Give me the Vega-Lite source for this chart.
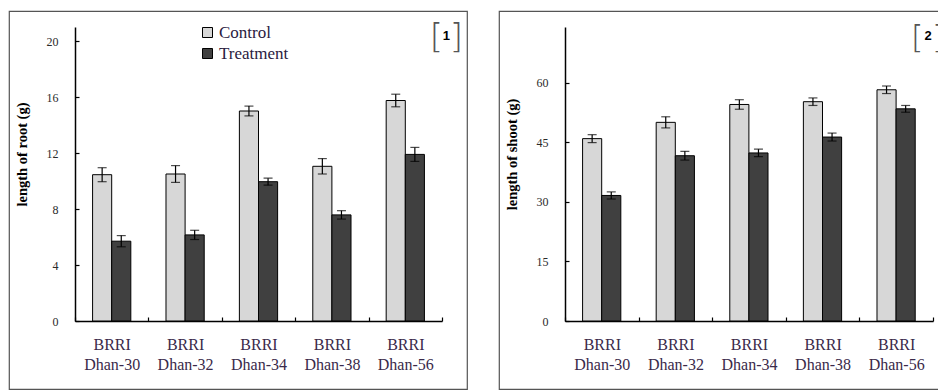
{
  "$schema": "https://vega.github.io/schema/vega-lite/v6.json",
  "background": "white",
  "padding": {"left": 8, "top": 10, "right": 0, "bottom": 0},
  "spacing": 30,
  "config": {
    "view": {"stroke": "#555555", "strokeWidth": 1.2},
    "font": "Liberation Serif",
    "axis": {
      "grid": false,
      "domainColor": "black",
      "domainWidth": 1.5,
      "tickColor": "black",
      "tickWidth": 1.2,
      "tickSize": -4,
      "labelFont": "Liberation Serif",
      "labelColor": "#2a2a2a",
      "titleFont": "Liberation Serif",
      "titleColor": "black"
    },
    "axisX": {
      "offset": -68,
      "tickBand": "extent",
      "labelAngle": 0,
      "labelFont": "Liberation Serif",
      "labelFontSize": 16,
      "labelLineHeight": 20,
      "labelPadding": 19,
      "labelBaseline": "top",
      "labelColor": "#3a2a4a",
      "title": null
    },
    "axisY": {
      "offset": -66,
      "labelFont": "Liberation Serif",
      "labelFontSize": 12,
      "labelPadding": 21,
      "titleFont": "Liberation Serif",
      "titleFontSize": 14.5,
      "titleFontWeight": "bold",
      "titlePadding": 17
    },
    "legend": {
      "orient": "none",
      "title": null,
      "padding": 0,
      "symbolType": "square",
      "symbolSize": 100,
      "symbolStrokeColor": "black",
      "symbolStrokeWidth": 1,
      "labelFont": "Liberation Serif",
      "labelFontSize": 17,
      "labelColor": "#2a2040",
      "labelOffset": 3,
      "rowPadding": 3
    }
  },
  "hconcat": [
    {
      "width": 458,
      "height": 378,
      "data": {
        "values": [
          {"cultivar": "BRRI Dhan-30", "group": "Control", "value": 10.45, "lo": 9.95, "hi": 10.95},
          {"cultivar": "BRRI Dhan-30", "group": "Treatment", "value": 5.7, "lo": 5.3, "hi": 6.1},
          {"cultivar": "BRRI Dhan-32", "group": "Control", "value": 10.5, "lo": 9.9, "hi": 11.1},
          {"cultivar": "BRRI Dhan-32", "group": "Treatment", "value": 6.15, "lo": 5.82, "hi": 6.48},
          {"cultivar": "BRRI Dhan-34", "group": "Control", "value": 15.0, "lo": 14.65, "hi": 15.35},
          {"cultivar": "BRRI Dhan-34", "group": "Treatment", "value": 9.95, "lo": 9.7, "hi": 10.2},
          {"cultivar": "BRRI Dhan-38", "group": "Control", "value": 11.05, "lo": 10.5, "hi": 11.6},
          {"cultivar": "BRRI Dhan-38", "group": "Treatment", "value": 7.58, "lo": 7.28, "hi": 7.88},
          {"cultivar": "BRRI Dhan-56", "group": "Control", "value": 15.75, "lo": 15.3, "hi": 16.2},
          {"cultivar": "BRRI Dhan-56", "group": "Treatment", "value": 11.9, "lo": 11.4, "hi": 12.4}
        ]
      },
      "encoding": {
        "x": {
          "field": "cultivar",
          "type": "nominal",
          "scale": {
            "domain": ["BRRI Dhan-30", "BRRI Dhan-32", "BRRI Dhan-34", "BRRI Dhan-38", "BRRI Dhan-56"],
            "range": [66, 433],
            "paddingInner": 0,
            "paddingOuter": 0
          },
          "axis": {"labelFont": "Liberation Serif", "labelExpr": "split(datum.label, ' ')"}
        }
      },
      "layer": [
        {
          "mark": {"type": "bar", "stroke": "black", "strokeWidth": 1},
          "encoding": {
            "xOffset": {"field": "group", "type": "nominal", "scale": {"domain": ["Control", "Treatment"], "paddingInner": 0, "paddingOuter": 0.92}},
            "y": {
              "field": "value",
              "type": "quantitative",
              "title": "length of root (g)",
              "scale": {"domain": [0, 21], "range": [310, 16], "nice": false},
              "axis": {"values": [0, 4, 8, 12, 16, 20], "titleY": 143}
            },
            "fill": {
              "field": "group",
              "type": "nominal",
              "scale": {"domain": ["Control", "Treatment"], "range": ["#d7d7d7", "#404040"]},
              "legend": {
                "legendX": 190,
                "legendY": 13,
                "labelFont": "Liberation Serif",
                "encode": {"labels": {"update": {"font": {"value": "Liberation Serif"}}}}
              }
            }
          }
        },
        {
          "mark": {"type": "rule", "color": "black", "strokeWidth": 1.2},
          "encoding": {
            "xOffset": {"field": "group", "type": "nominal"},
            "y": {"field": "lo", "type": "quantitative", "title": "length of root (g)"},
            "y2": {"field": "hi"}
          }
        },
        {
          "mark": {"type": "tick", "color": "black", "size": 9, "thickness": 1.2},
          "encoding": {
            "xOffset": {"field": "group", "type": "nominal"},
            "y": {"field": "lo", "type": "quantitative", "title": "length of root (g)"}
          }
        },
        {
          "mark": {"type": "tick", "color": "black", "size": 9, "thickness": 1.2},
          "encoding": {
            "xOffset": {"field": "group", "type": "nominal"},
            "y": {"field": "hi", "type": "quantitative", "title": "length of root (g)"}
          }
        },
        {
          "data": {"values": [{"tag": "1"}]},
          "mark": {"type": "text", "font": "Liberation Sans", "fontSize": 13, "fontWeight": "bold", "color": "black", "baseline": "middle", "align": "center", "dx": 41},
          "encoding": {"x": {"datum": "BRRI Dhan-56"}, "y": {"datum": 20.36}, "text": {"field": "tag"}}
        },
        {
          "data": {"values": [{"tag": "["}]},
          "mark": {"type": "text", "font": "DejaVu Sans", "fontWeight": 200, "fontSize": 34, "color": "#555555", "baseline": "middle", "align": "center", "dx": 31, "dy": 2},
          "encoding": {"x": {"datum": "BRRI Dhan-56"}, "y": {"datum": 20.36}, "text": {"field": "tag"}}
        },
        {
          "data": {"values": [{"tag": "]"}]},
          "mark": {"type": "text", "font": "DejaVu Sans", "fontWeight": 200, "fontSize": 34, "color": "#555555", "baseline": "middle", "align": "center", "dx": 51, "dy": 2},
          "encoding": {"x": {"datum": "BRRI Dhan-56"}, "y": {"datum": 20.36}, "text": {"field": "tag"}}
        }
      ]
    },
    {
      "width": 442,
      "height": 378,
      "data": {
        "values": [
          {"cultivar": "BRRI Dhan-30", "group": "Control", "value": 45.9, "lo": 44.9, "hi": 46.9},
          {"cultivar": "BRRI Dhan-30", "group": "Treatment", "value": 31.6, "lo": 30.7, "hi": 32.5},
          {"cultivar": "BRRI Dhan-32", "group": "Control", "value": 50.0, "lo": 48.6, "hi": 51.4},
          {"cultivar": "BRRI Dhan-32", "group": "Treatment", "value": 41.6, "lo": 40.5, "hi": 42.7},
          {"cultivar": "BRRI Dhan-34", "group": "Control", "value": 54.5, "lo": 53.3, "hi": 55.7},
          {"cultivar": "BRRI Dhan-34", "group": "Treatment", "value": 42.3, "lo": 41.35, "hi": 43.25},
          {"cultivar": "BRRI Dhan-38", "group": "Control", "value": 55.2, "lo": 54.25, "hi": 56.15},
          {"cultivar": "BRRI Dhan-38", "group": "Treatment", "value": 46.3, "lo": 45.3, "hi": 47.3},
          {"cultivar": "BRRI Dhan-56", "group": "Control", "value": 58.2, "lo": 57.25, "hi": 59.15},
          {"cultivar": "BRRI Dhan-56", "group": "Treatment", "value": 53.4, "lo": 52.55, "hi": 54.25}
        ]
      },
      "encoding": {
        "x": {
          "field": "cultivar",
          "type": "nominal",
          "scale": {
            "domain": ["BRRI Dhan-30", "BRRI Dhan-32", "BRRI Dhan-34", "BRRI Dhan-38", "BRRI Dhan-56"],
            "range": [66, 434],
            "paddingInner": 0,
            "paddingOuter": 0
          },
          "axis": {"labelFont": "Liberation Serif", "labelExpr": "split(datum.label, ' ')"}
        }
      },
      "layer": [
        {
          "mark": {"type": "bar", "stroke": "black", "strokeWidth": 1},
          "encoding": {
            "xOffset": {"field": "group", "type": "nominal", "scale": {"domain": ["Control", "Treatment"], "paddingInner": 0, "paddingOuter": 0.92}},
            "y": {
              "field": "value",
              "type": "quantitative",
              "title": "length of shoot (g)",
              "scale": {"domain": [0, 74], "range": [310, 16], "nice": false},
              "axis": {"values": [0, 15, 30, 45, 60], "titleY": 143}
            },
            "fill": {
              "field": "group",
              "type": "nominal",
              "scale": {"domain": ["Control", "Treatment"], "range": ["#d7d7d7", "#404040"]},
              "legend": {
                "legendX": 184,
                "legendY": 13,
                "labelFont": "Liberation Serif",
                "encode": {"labels": {"update": {"font": {"value": "Liberation Serif"}}}}
              }
            }
          }
        },
        {
          "mark": {"type": "rule", "color": "black", "strokeWidth": 1.2},
          "encoding": {
            "xOffset": {"field": "group", "type": "nominal"},
            "y": {"field": "lo", "type": "quantitative", "title": "length of shoot (g)"},
            "y2": {"field": "hi"}
          }
        },
        {
          "mark": {"type": "tick", "color": "black", "size": 9, "thickness": 1.2},
          "encoding": {
            "xOffset": {"field": "group", "type": "nominal"},
            "y": {"field": "lo", "type": "quantitative", "title": "length of shoot (g)"}
          }
        },
        {
          "mark": {"type": "tick", "color": "black", "size": 9, "thickness": 1.2},
          "encoding": {
            "xOffset": {"field": "group", "type": "nominal"},
            "y": {"field": "hi", "type": "quantitative", "title": "length of shoot (g)"}
          }
        },
        {
          "data": {"values": [{"tag": "2"}]},
          "mark": {"type": "text", "font": "Liberation Sans", "fontSize": 13, "fontWeight": "bold", "color": "black", "baseline": "middle", "align": "center", "dx": 32},
          "encoding": {"x": {"datum": "BRRI Dhan-56"}, "y": {"datum": 71.7}, "text": {"field": "tag"}}
        },
        {
          "data": {"values": [{"tag": "["}]},
          "mark": {"type": "text", "font": "DejaVu Sans", "fontWeight": 200, "fontSize": 32, "color": "#555555", "baseline": "middle", "align": "center", "dx": 21, "dy": 2},
          "encoding": {"x": {"datum": "BRRI Dhan-56"}, "y": {"datum": 71.7}, "text": {"field": "tag"}}
        },
        {
          "data": {"values": [{"tag": "]"}]},
          "mark": {"type": "text", "font": "DejaVu Sans", "fontWeight": 200, "fontSize": 32, "color": "#555555", "baseline": "middle", "align": "center", "dx": 42, "dy": 2},
          "encoding": {"x": {"datum": "BRRI Dhan-56"}, "y": {"datum": 71.7}, "text": {"field": "tag"}}
        }
      ]
    }
  ]
}
